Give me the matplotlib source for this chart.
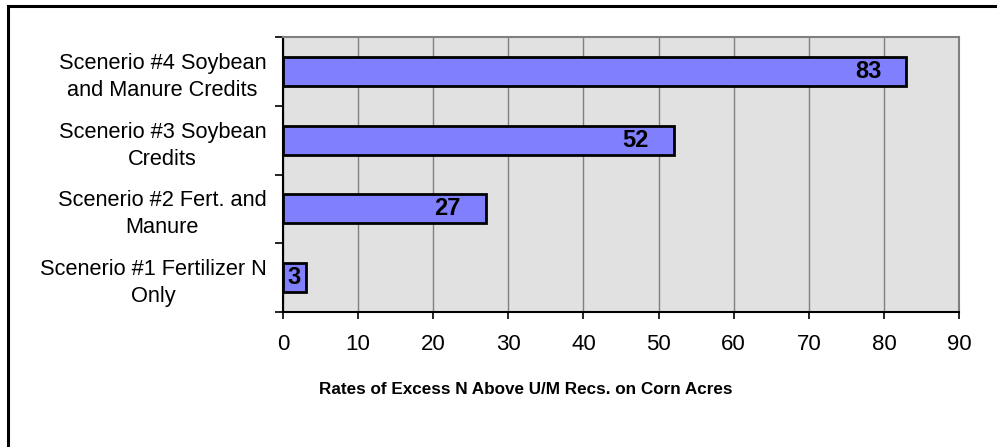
import matplotlib
matplotlib.use("Agg")
import matplotlib.pyplot as plt
from matplotlib.patches import Rectangle

categories = ["Scenerio #1 Fertilizer N\nOnly",
              "Scenerio #2 Fert. and\nManure",
              "Scenerio #3 Soybean\nCredits",
              "Scenerio #4 Soybean\nand Manure Credits"]
values = [3, 27, 52, 83]
xticks = [0, 10, 20, 30, 40, 50, 60, 70, 80, 90]
xlabel = "Rates of Excess N Above U/M Recs. on Corn Acres"

plt.rcParams['font.family'] = ['Liberation Sans', 'DejaVu Sans']

W, H = 997, 447
fig = plt.figure(figsize=(W / 100, H / 100), dpi=100)
ax = fig.add_axes([283 / W, 1 - 312 / H, (959 - 283) / W, (312 - 37) / H])

ax.set_facecolor('#E1E1E1')
ax.set_xlim(0, 90)
ax.set_ylim(-0.5, len(categories) - 0.5)
ax.set_axisbelow(True)
ax.xaxis.grid(True, color='#808080', linewidth=1.0)

ypos = list(range(len(categories)))
ax.barh(ypos, values, height=0.42, color='#8080FF', edgecolor='black', linewidth=2)

for y, v in zip(ypos, values):
    if v >= 10:
        ax.annotate(str(v), xy=(v, y), xytext=(-18, 0), textcoords='offset points',
                    ha='right', va='center', fontsize=17, fontweight='bold')
    else:
        ax.annotate(str(v), xy=(0, y), xytext=(3.0, 0), textcoords='offset points',
                    ha='left', va='center', fontsize=17, fontweight='bold')

ax.set_xticks(xticks)
ax.set_xticklabels([str(t) for t in xticks], fontsize=16)
ax.tick_params(axis='x', direction='out', length=5, width=1.2, pad=11, colors='black')

ax.set_yticks([y - 0.5 for y in ypos] + [len(categories) - 0.5])
ax.set_yticklabels([])
ax.set_yticks(ypos, minor=True)
ax.set_yticklabels(categories, minor=True, fontsize=15.7, linespacing=1.38,
                   multialignment='center')
ax.tick_params(axis='y', which='major', direction='out', length=6, width=1.2)
ax.tick_params(axis='y', which='minor', length=0, pad=12)

for s in ['top', 'right']:
    ax.spines[s].set_color('#808080')
    ax.spines[s].set_linewidth(1.5)
for s in ['left', 'bottom']:
    ax.spines[s].set_color('black')
    ax.spines[s].set_linewidth(1.5)

ax.set_xlabel(xlabel, fontweight='bold', fontsize=12.3, va='center')
ax.xaxis.set_label_coords(526 / W, 1 - 389 / H, transform=fig.transFigure)

fig.patches.append(Rectangle((8 / W, -0.1), 1.2, 1 - 6 / H + 0.1, transform=fig.transFigure,
                             fill=False, edgecolor='black', linewidth=2.2))

fig.savefig('out.png', dpi=100)
